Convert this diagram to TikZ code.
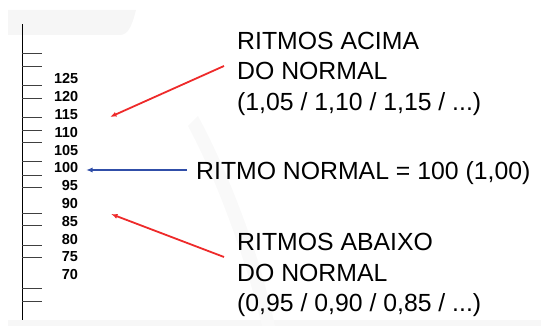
\documentclass[tikz,border=0pt]{standalone}
\usepackage{fontspec}
\setmainfont{Liberation Sans}
\usetikzlibrary{arrows.meta}

\definecolor{arrowred}{RGB}{238,42,42}
\definecolor{arrowblue}{RGB}{48,78,168}

\begin{document}
\begin{tikzpicture}[x=1pt, y=1pt, node distance=17.8pt,
	scale label/.style={inner sep=0pt, text width=24pt, align=right,
		font=\fontsize{14.5}{15}\selectfont\bfseries},
	big text/.style={inner sep=0pt, align=left,
		font=\fontsize{24.8}{30.7}\selectfont},
	pointer/.style={line width=1.8pt, -{Latex[length=6.5pt,width=5pt]}}]
	\useasboundingbox (0,0) rectangle (541,326);
	
	% faint background sweep
	\fill[gray!7] (8,291) -- (120,291) .. controls (128,291) and (132,300) .. (136,316) -- (8,316) -- cycle;
	\fill[gray!6] (8,0) rectangle (541,6);
	\fill[gray!5] (188,200) .. controls (215,150) and (245,70) .. (262,0) -- (275,0) .. controls (258,80) and (225,160) .. (198,210) -- cycle;
	
	% scale
	\draw[line width=0.9pt] (22.3,301.7) -- (22.3,6);
	\draw[line width=0.8pt, black!75]
	(22.3,272.7) -- (41.7,272.7)  (22.3,259.3) -- (41.7,259.3)
	(22.3,240.3) -- (41.7,240.3)  (22.3,227.7) -- (41.7,227.7)
	(22.3,208.7) -- (41.7,208.7)  (22.3,196.0) -- (41.7,196.0)
	(22.3,183.7) -- (41.7,183.7)  (22.3,164.3) -- (41.7,164.3)
	(22.3,151.0) -- (41.7,151.0)  (22.3,138.3) -- (41.7,138.3)
	(22.3,112.7) -- (41.7,112.7)  (22.3,100.3) -- (41.7,100.3)
	(22.3,81.0) -- (41.7,81.0)    (22.3,68.7) -- (41.7,68.7)
	(22.3,37.7) -- (41.7,37.7)    (22.3,24.3) -- (41.7,24.3);
	
	\node[scale label] (r125) at (66,247) {125};
	\node[scale label] (r120) [below of=r125] {120};
	\node[scale label] (r115) [below of=r120] {115};
	\node[scale label] (r110) [below of=r115] {110};
	\node[scale label] (r105) [below of=r110] {105};
	\node[scale label] (r100) [below of=r105] {100};
	\node[scale label] (r95) [below of=r100] {95};
	\node[scale label] (r90) [below of=r95] {90};
	\node[scale label] (r85) [below of=r90] {85};
	\node[scale label] (r80) [below of=r85] {80};
	\node[scale label] (r75) [below of=r80] {75};
	\node[scale label] (r70) [below of=r75] {70};
	
	% texts
	\node[big text, anchor=north west] (acima) at (237,294.3)
	{RITMOS ACIMA\\DO NORMAL\\(1,05 / 1,10 / 1,15 / ...)};
	\node[big text, anchor=base west] (normal) at (196,146)
	{RITMO NORMAL = 100 (1,00)};
	\node[big text, anchor=north west] (abaixo) at (237,93)
	{RITMOS ABAIXO\\DO NORMAL\\(0,95 / 0,90 / 0,85 / ...)};
	
	% arrows
	\coordinate (acima start) at (224,260);
	\coordinate (acima tip) at (110,209);
	\coordinate (normal start) at (187,156);
	\coordinate (normal tip) at (86,156);
	\coordinate (abaixo start) at (224,69);
	\coordinate (abaixo tip) at (111,112);
	
	\draw[pointer, arrowred] (acima start) -- (acima tip);
	\draw[pointer, arrowblue, line width=1.6pt] (normal start) -- (normal tip);
	\draw[pointer, arrowred] (abaixo start) -- (abaixo tip);
\end{tikzpicture}
\end{document}
